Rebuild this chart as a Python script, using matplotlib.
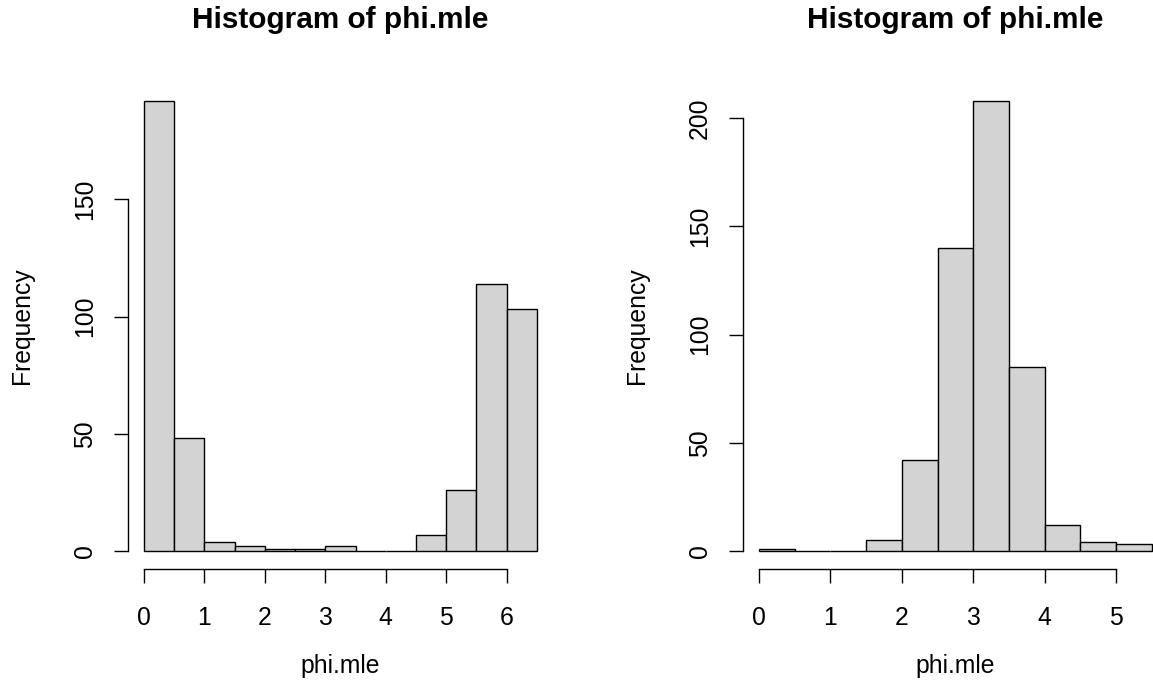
import matplotlib
matplotlib.use("Agg")
import matplotlib.pyplot as plt
import numpy as np

plt.rcParams['font.family'] = ['Liberation Sans', 'DejaVu Sans']

# Data
bin_width = 0.5
left_counts = [192, 48, 4, 2, 1, 1, 2, 0, 0, 7, 26, 114, 103]
right_counts = [1, 0, 0, 5, 42, 140, 208, 85, 12, 4, 3]
left_xticks = [0, 1, 2, 3, 4, 5, 6]
left_yticks = [0, 50, 100, 150]
right_xticks = [0, 1, 2, 3, 4, 5]
right_yticks = [0, 50, 100, 150, 200]
title = "Histogram of phi.mle"
xlab = "phi.mle"
ylab = "Frequency"

W, H = 1153, 694
fig = plt.figure(figsize=(W / 100, H / 100), dpi=100)

FS = 17.8
TITLE_FS = 21.4
LW = 1.0
TICKLEN = 10  # points (~14 px)


def panel(ax_left_px, counts, xticks, yticks):
    n = len(counts)
    edges = np.arange(n + 1) * bin_width
    xmin, xmax = edges[0], edges[-1]
    ymax = max(counts)
    dx = (xmax - xmin) * 0.04
    dy = ymax * 0.04
    bottom_px, top_px = 569, 82.8
    ax = fig.add_axes([ax_left_px / W, (H - bottom_px) / H,
                       424.2 / W, (bottom_px - top_px) / H])
    ax.bar(edges[:-1], counts, width=bin_width, align='edge',
           color='#D3D3D3', edgecolor='black', linewidth=LW, clip_on=False)
    ax.set_xlim(xmin - dx, xmax + dx)
    ax.set_ylim(-dy, ymax + dy)
    for s in ['top', 'right']:
        ax.spines[s].set_visible(False)
    for s in ['left', 'bottom']:
        ax.spines[s].set_linewidth(LW)
    ax.spines['bottom'].set_bounds(xticks[0], xticks[-1])
    ax.spines['left'].set_bounds(yticks[0], yticks[-1])
    ax.set_xticks(xticks, [str(t) for t in xticks], va='baseline')
    ax.set_yticks(yticks, [str(t) for t in yticks], rotation=90,
                  va='baseline', ha='center', rotation_mode='anchor')
    ax.tick_params(axis='x', length=TICKLEN, width=LW, labelsize=FS, pad=30)
    ax.tick_params(axis='y', length=TICKLEN, width=LW, labelsize=FS, pad=16.3)
    ax.patch.set_alpha(0)
    cx = ax_left_px + 424.2 / 2
    fig.text(cx / W, (H - 28.5) / H, title, ha='center', va='baseline',
             fontsize=TITLE_FS, fontweight='bold')
    fig.text(cx / W, (H - 673) / H, xlab, ha='center', va='baseline',
             fontsize=FS)
    fig.text((ax_left_px - 99) / W, (H - (bottom_px + top_px) / 2) / H, ylab,
             rotation=90, rotation_mode='anchor', ha='center', va='baseline',
             fontsize=FS)
    return ax


panel(128.3, left_counts, left_xticks, left_yticks)
panel(743.3, right_counts, right_xticks, right_yticks)

fig.savefig("out.png", dpi=100, facecolor='white')
